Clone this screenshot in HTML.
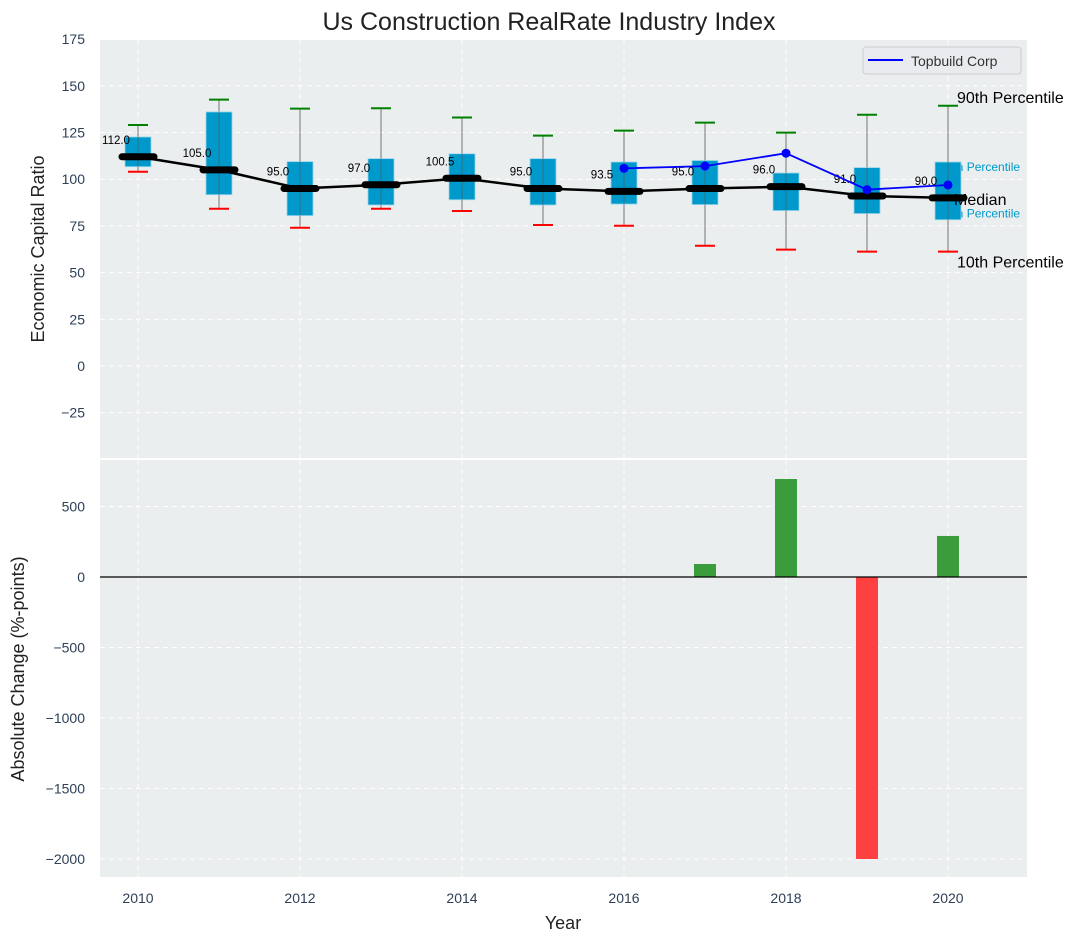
<!DOCTYPE html>
<html><head><meta charset="utf-8"><style>
html,body{margin:0;padding:0;background:#fff;}
svg{display:block;font-family:"Liberation Sans","DejaVu Sans",sans-serif;}
</style></head><body>
<svg id="chart" width="1092" height="942" viewBox="0 0 1092 942" xmlns="http://www.w3.org/2000/svg">
<text x="549" y="30" text-anchor="middle" font-size="25" fill="#222">Us Construction RealRate Industry Index</text>
<rect x="100" y="40" width="927" height="418" fill="#eaeeee"/>
<rect x="100" y="460" width="927" height="417" fill="#eaeeee"/>
<g id="gtop"></g>
<g id="gbot"></g>
<text transform="translate(44,249) rotate(-90)" text-anchor="middle" font-size="18" fill="#222">Economic Capital Ratio</text>
<text transform="translate(24,669) rotate(-90)" text-anchor="middle" font-size="18" fill="#222">Absolute Change (%-points)</text>
<text x="563" y="929" text-anchor="middle" font-size="18" fill="#222">Year</text>
<g>
<rect x="863" y="47" width="158" height="27" rx="3" fill="#e9ebef" stroke="#ccc"/>
<line x1="868" y1="60" x2="903" y2="60" stroke="#0000ff" stroke-width="2"/>
<text x="911" y="66" font-size="14" fill="#333">Topbuild Corp</text>
</g>
</svg>
<script>
const years=[2010,2011,2012,2013,2014,2015,2016,2017,2018,2019,2020];
const p90=[129,142.6,137.8,138,133,123.3,126,130.3,124.9,134.5,139.3];
const p75=[122.6,136,109.4,111,113.6,111,109.2,110,103.3,106.2,109.2];
const medians=[112,105,95,97,100.5,95,93.5,95,96,91,90];
const p25=[106.7,91.7,80.5,86.2,89,86.2,86.7,86.4,83.2,81.6,78.3];
const p10=[104,84.2,74,84.2,83,75.5,75.1,64.4,62.3,61.2,61.2];
const tbYears=[2016,2017,2018,2019,2020];
const tbValues=[105.8,107,113.9,94.4,96.9];
const changes=[0,0,0,0,0,0,0,92,695,-2000,291];
const topTicks=[-25,0,25,50,75,100,125,150,175];
const botTicks=[-2000,-1500,-1000,-500,0,500];
const xTicks=[2010,2012,2014,2016,2018,2020];

const NS="http://www.w3.org/2000/svg";
const X=v=>138+(v-2010)*81;
const YT=v=>366-v*1.868;
const YB=v=>577-v*0.141;
function mk(parent,tag,attrs,text){const e=document.createElementNS(NS,tag);for(const k in attrs)e.setAttribute(k,attrs[k]);if(text!==undefined)e.textContent=text;parent.appendChild(e);return e;}
const gTop=document.getElementById('gtop'),gBot=document.getElementById('gbot');
const tickCol="#2e4057";
topTicks.forEach(t=>{const y=YT(t);
 const g=mk(gTop,'line',{x1:100,x2:1027,y1:y,y2:y,stroke:'#fff','stroke-dasharray':'5,4','stroke-width':1});
 
 
 const l=mk(gTop,'text',{x:85,y:y+5,'text-anchor':'end','font-size':14,fill:tickCol},t<0?'\u2212'+(-t):String(t));
 
 });
botTicks.forEach(t=>{const y=YB(t);
 const g=mk(gBot,'line',{x1:100,x2:1027,y1:y,y2:y,stroke:'#fff','stroke-dasharray':'5,4','stroke-width':1});
 
 
 const l=mk(gBot,'text',{x:85,y:y+5,'text-anchor':'end','font-size':14,fill:tickCol},t<0?'\u2212'+(-t):String(t));
 
 });
xTicks.forEach(t=>{const x=X(t);
 const a=mk(gTop,'line',{x1:x,x2:x,y1:40,y2:458,stroke:'#fff','stroke-dasharray':'5,4'});
 
 
 const b=mk(gBot,'line',{x1:x,x2:x,y1:460,y2:877,stroke:'#fff','stroke-dasharray':'5,4'});
 
 
 const l=mk(gBot,'text',{x:x,y:903,'text-anchor':'middle','font-size':14,fill:tickCol},String(t));
 
 });
const lx=X(2020);
[['90th Percentile',lx+9,YT(p90[10])-3,16,'#000'],['75th Percentile',lx-8,YT(p75[10])+9,12,'#0099cc'],['25th Percentile',lx-8,YT(p25[10])-2,12,'#0099cc'],['10th Percentile',lx+9,YT(p10[10])+16,16,'#000']].forEach(d=>{
 const t=mk(gTop,'text',{x:d[1],y:d[2],'font-size':d[3],fill:d[4]},d[0]);
 
 });
years.forEach((yr,i)=>{const x=X(yr);
 const w=mk(gTop,'line',{x1:x,x2:x,y1:YT(p90[i]),y2:YT(p10[i]),stroke:'#777','stroke-width':1});
 
 
 const b=mk(gTop,'rect',{x:x-13,y:YT(p75[i]),width:26,height:YT(p25[i])-YT(p75[i]),fill:'#0099cc',stroke:'#9ad4ea','stroke-width':0.8});
 
 
 const w2=mk(gTop,'line',{x1:x,x2:x,y1:YT(p75[i]),y2:YT(p25[i]),stroke:'#555','stroke-width':1,'stroke-opacity':0.6});
 
 
 const h=mk(gTop,'line',{x1:x-10,x2:x+10,y1:YT(p90[i]),y2:YT(p90[i]),stroke:'green','stroke-width':2});
 
 
 const l=mk(gTop,'line',{x1:x-10,x2:x+10,y1:YT(p10[i]),y2:YT(p10[i]),stroke:'red','stroke-width':2});
 
 });
const ml=mk(gTop,'polyline',{points:years.map((y,i)=>X(y)+','+YT(medians[i])).join(' '),fill:'none',stroke:'#000','stroke-width':2.5});


years.forEach((yr,i)=>{const x=X(yr),y=YT(medians[i]);
 const m=mk(gTop,'line',{x1:x-16,x2:x+16,y1:y,y2:y,stroke:'#000','stroke-width':7,'stroke-linecap':'round'});
 
 
 const t=mk(gTop,'text',{x:x-22,y:y-13,'text-anchor':'middle','font-size':11.5,fill:'#000'},medians[i].toFixed(1));
 
 });
const medLbl=mk(gTop,'text',{x:lx+6,y:YT(medians[10])+7,'font-size':16,fill:'#000'},'Median');


const tl=mk(gTop,'polyline',{points:tbYears.map((y,i)=>X(y)+','+YT(tbValues[i])).join(' '),fill:'none',stroke:'#0000ff','stroke-width':1.8});


tbYears.forEach((yr,i)=>{const c=mk(gTop,'circle',{cx:X(yr),cy:YT(tbValues[i]),r:4.5,fill:'#0000ff'});
 
 });
years.forEach((yr,i)=>{const v=changes[i];if(v===0)return;
 const y0=YB(0),y1=YB(v);
 const r=mk(gBot,'rect',{x:X(yr)-11,y:Math.min(y0,y1),width:22,height:Math.abs(y1-y0),fill:v>0?'#3a9c3a':'#ff4040'});
 
 });
const z=mk(gBot,'line',{x1:100,x2:1027,y1:YB(0),y2:YB(0),stroke:'#000','stroke-width':1.2});


</script>
</body></html>
